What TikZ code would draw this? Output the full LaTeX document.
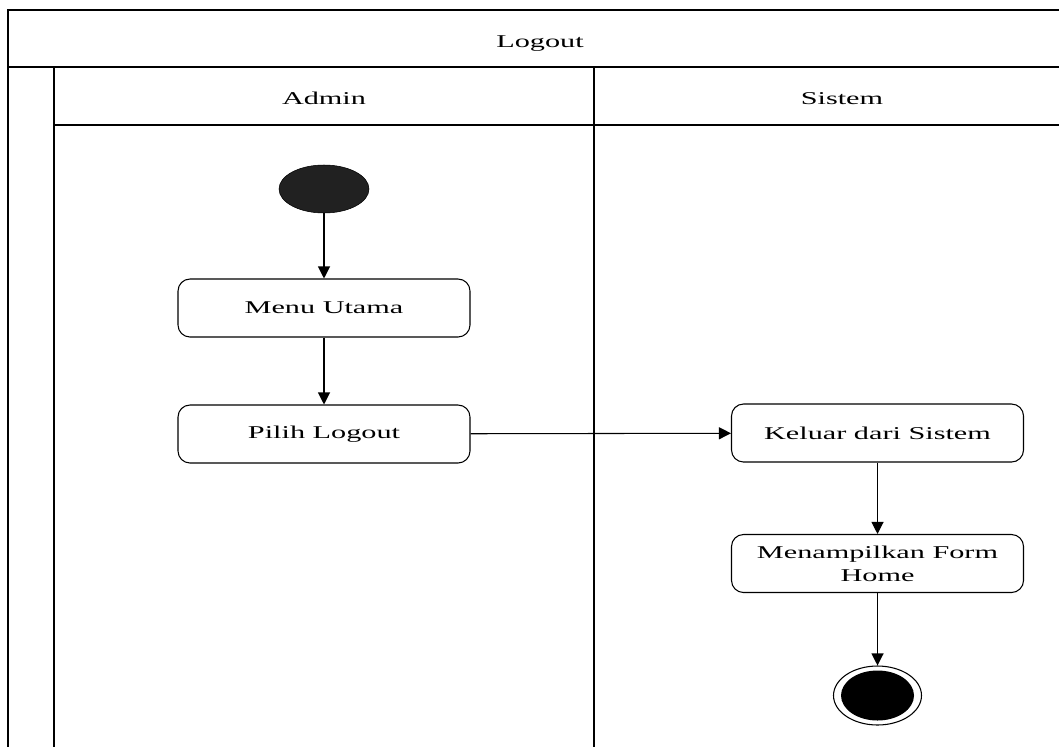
\documentclass[tikz,border=0pt]{standalone}
\usepackage{fontspec}
\setmainfont{Liberation Serif}[FakeStretch=1.68]
\usetikzlibrary{arrows.meta,positioning,shapes.geometric}
\tikzset{act/.style={draw, rounded corners=9pt, minimum width=219pt, minimum height=43.5pt, align=center, line width=0.8pt, font=\fontsize{13.5}{17}\selectfont}}
\tikzset{arr/.style={draw, -{Triangle[length=9pt,width=9pt]}, line width=0.8pt}}
\tikzset{lane/.style={line width=1.1pt}}
\tikzset{hdr/.style={font=\fontsize{13.5}{17}\selectfont, anchor=base}}

\begin{document}
\begin{tikzpicture}[x=0.75pt,y=-0.75pt]
    \useasboundingbox (0,0) rectangle (1059,747);
    % swimlanes
    \draw[lane] (1059,10) -- (8,10) -- (8,747);
    \draw[lane] (8,67) -- (1059,67);
    \draw[lane] (54,67) -- (54,747);
    \draw[lane] (594,67) -- (594,747);
    \draw[lane] (54,125) -- (1059,125);
    \node[hdr] (title) at (540,47) {Logout};
    \node[hdr] (admin) at (324,104) {Admin};
    \node[hdr] (sistem) at (842,104) {Sistem};

    \node[ellipse, draw, fill=black!87, minimum width=67.5pt, minimum height=36pt] (start) at (324,189) {};
    \node[act] (menu) at (324,308) {Menu Utama};
    \node[act] (pilih) at (324,434) {Pilih Logout};
    \node[act] (keluar) at (877.5,433) {Keluar dari Sistem};
    \node[act] (tampil) at (877.5,563.5) {Menampilkan Form\\Home};
    \node[ellipse, draw, line width=0.8pt, minimum width=66pt, minimum height=44.25pt] (stop) at (877.5,695.5) {};
    \node[ellipse, fill=black, minimum width=54.75pt, minimum height=37.5pt] (stopdot) at (stop.center) {};

    \draw[arr] (start) -- (menu);
    \draw[arr] (menu) -- (pilih);
    \draw[arr] (pilih) -- (keluar);
    \draw[arr] (keluar) -- (tampil);
    \draw[arr] (tampil) -- (stop);
\end{tikzpicture}
\end{document}
